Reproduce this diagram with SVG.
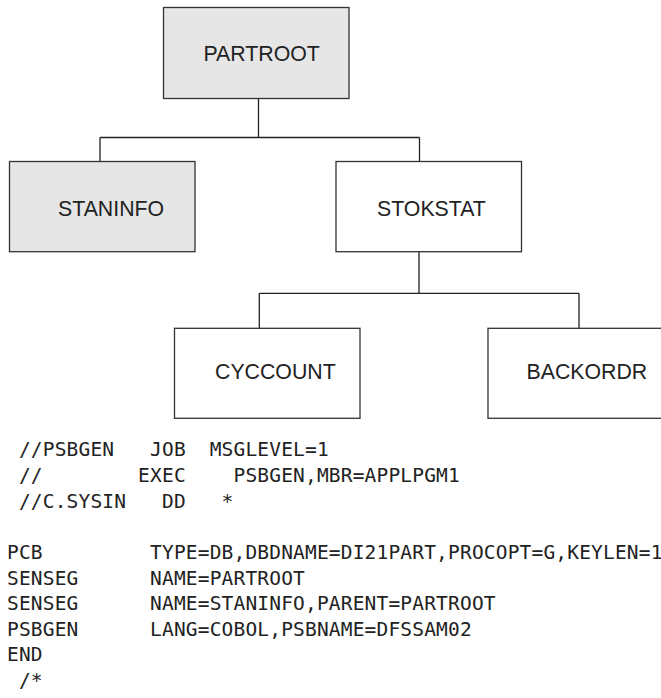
<svg xmlns="http://www.w3.org/2000/svg" width="661" height="698" viewBox="0 0 661 698">
<style>
.box{stroke:#333;stroke-width:1.3;}
.gray{fill:#e6e6e7;}
.white{fill:#ffffff;}
.lbl{font-family:"Liberation Sans",Arial,sans-serif;font-size:21.3px;fill:#222;}
.conn{stroke:#222;stroke-width:1.3;fill:none;}
.code{font-family:"DejaVu Sans Mono",monospace;font-size:19.5px;letter-spacing:0.18px;fill:#222;white-space:pre;}
</style>
<rect width="661" height="698" fill="#ffffff"/>
<g id="connectors">
<path class="conn" d="M258.5 98.3V137.5M100 137.5H419.5M100 137.5V161.5M419.5 137.5V161.5"/>
<path class="conn" d="M419 251.7V293.3M259.3 293.3H579M259.3 293.3V328.3M579 293.3V328.3"/>
</g>
<g id="PARTROOT">
<rect class="box gray" x="163.5" y="7.5" width="185.5" height="91"/>
<text class="lbl" x="203.5" y="61">PARTROOT</text>
</g>
<g id="STANINFO">
<rect class="box gray" x="9.5" y="161.5" width="185.5" height="90.2"/>
<text class="lbl" x="58" y="215.5">STANINFO</text>
</g>
<g id="STOKSTAT">
<rect class="box white" x="336" y="161.5" width="185.5" height="90.2"/>
<text class="lbl" x="377" y="215.5">STOKSTAT</text>
</g>
<g id="CYCCOUNT">
<rect class="box white" x="174.5" y="328.3" width="185.5" height="90"/>
<text class="lbl" x="215" y="379">CYCCOUNT</text>
</g>
<g id="BACKORDR">
<rect class="box white" x="488" y="328.3" width="200" height="90"/>
<text class="lbl" x="526.5" y="379">BACKORDR</text>
</g>
<g id="code">
<text class="code" xml:space="preserve" x="7" y="456"> //PSBGEN   JOB  MSGLEVEL=1</text>
<text class="code" xml:space="preserve" x="7" y="482"> //        EXEC    PSBGEN,MBR=APPLPGM1</text>
<text class="code" xml:space="preserve" x="7" y="508"> //C.SYSIN   DD   *</text>
<text class="code" xml:space="preserve" x="7" y="559">PCB         TYPE=DB,DBDNAME=DI21PART,PROCOPT=G,KEYLEN=1</text>
<text class="code" xml:space="preserve" x="7" y="584.5">SENSEG      NAME=PARTROOT</text>
<text class="code" xml:space="preserve" x="7" y="610">SENSEG      NAME=STANINFO,PARENT=PARTROOT</text>
<text class="code" xml:space="preserve" x="7" y="635.5">PSBGEN      LANG=COBOL,PSBNAME=DFSSAM02</text>
<text class="code" xml:space="preserve" x="7" y="661">END</text>
<text class="code" xml:space="preserve" x="7" y="686.5"> /*</text>
</g>
</svg>
